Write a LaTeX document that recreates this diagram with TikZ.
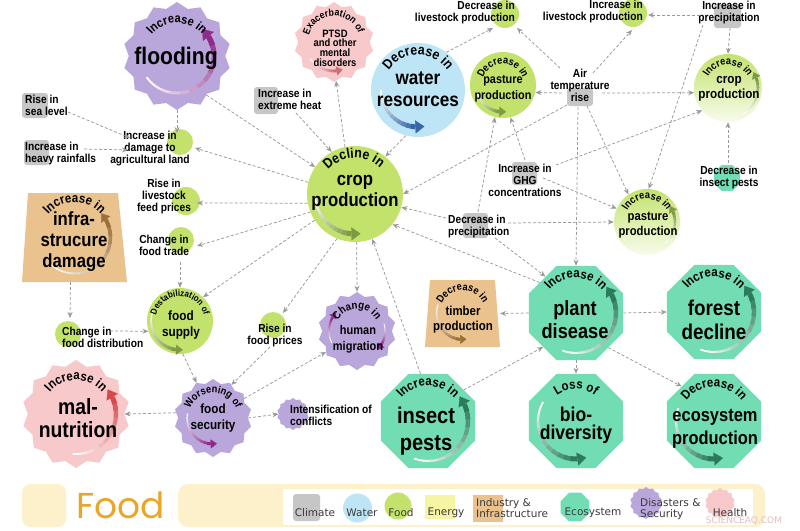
\documentclass[tikz,border=0pt]{standalone}
\usepackage{fontspec}
\setmainfont{Liberation Sans}[FakeStretch=0.88]
\newfontfamily\legfont{DejaVu Sans}
\newfontfamily\foodfont{Poppins}
\usetikzlibrary{shapes.geometric,decorations.text,arrows.meta,calc}
\definecolor{clim}{HTML}{C6C6C6}
\definecolor{wat}{HTML}{BEE5F5}
\definecolor{food}{HTML}{C3E26B}
\definecolor{ener}{HTML}{F6F5A3}
\definecolor{ind}{HTML}{E9C28E}
\definecolor{eco}{HTML}{72DDB3}
\definecolor{dis}{HTML}{B9A7DB}
\definecolor{hlth}{HTML}{F7C9CB}
\definecolor{band}{HTML}{FDF1CC}
\definecolor{orng}{HTML}{EBA628}
\definecolor{lnc}{HTML}{9A9A9A}
\definecolor{legc}{HTML}{3A3A3A}
\definecolor{swP}{HTML}{8E2A8A}
\definecolor{swB}{HTML}{3466A8}
\definecolor{swG}{HTML}{7E9A45}
\definecolor{swT}{HTML}{2C7A5C}
\definecolor{swR}{HTML}{D8494A}
\definecolor{swN}{HTML}{9A7038}
\definecolor{swK}{HTML}{D06A78}

\newcommand\fs[2]{\fontsize{#1}{#2}\selectfont\bfseries}
\newcommand\caN{\fontsize{14}{14}\selectfont\bfseries}
\newcommand\caM{\fontsize{13}{13}\selectfont\bfseries}
\newcommand\caL{\fontsize{12.5}{12.5}\selectfont\bfseries}
\newcommand\caS{\fontsize{11}{11}\selectfont\bfseries}
\newcommand\caT{\fontsize{10.5}{10.5}\selectfont\bfseries}
\newcommand\caU{\fontsize{10}{10}\selectfont\bfseries}
\newcommand\caV{\fontsize{9}{9}\selectfont\bfseries}

% curved text: center, radius, start, end, font, text
\newcommand\arctext[6]{%
  \path[decorate, decoration={text along path, text align=center, text={|#5|#6}}]
    ($(#1)+(#3:#2)$) arc[start angle=#3, end angle=#4, radius=#2];}

% swoosh arrow: center, radius, start, end, colour, width
\newcommand\swoosh[6]{%
  \foreach \i in {0,...,11}{%
    \pgfmathsetmacro\sa{#3+(#4-(#3))*\i/12}%
    \pgfmathsetmacro\sb{#3+(#4-(#3))*min(\i+1.3,12)/12}%
    \pgfmathtruncatemacro\pc{100*\i/11}%
    \pgfmathsetmacro\lw{(0.35+0.65*\i/11)*#6}%
    \draw[line width=\lw pt, draw=#5!\pc!white] ($(#1)+(\sa:#2)$) arc[start angle=\sa, end angle=\sb, radius=#2];
  }%
  \pgfmathsetmacro\al{1.4*#6+2}%
  \pgfmathsetmacro\aw{2*#6+3}%
  \pgfmathsetmacro\dr{ifthenelse(#4>#3,1,-1)}%
  \pgfmathsetmacro\tp{#4+\dr*\al/#2*57.2958}%
  \draw[draw=#5, fill=#5, line width=0.2pt, -{Triangle[length=\al pt, width=\aw pt]}] ($(#1)+(#4:#2)$) -- ($(#1)+(\tp:#2)$);
}

\begin{document}
\begin{tikzpicture}[x=1pt,y=1pt,
  con/.style={draw=lnc, line width=0.75pt, dash pattern=on 3pt off 2pt, -{Stealth[length=6pt,width=5pt]}},
  lab/.style={inner sep=0pt, align=center, font=\fs{11.6}{12}},
  dotc/.style={circle, fill=food, inner sep=0pt},
  gbox/.style={rounded corners=3pt, fill=clim, inner sep=0pt},
  octo/.style={regular polygon, regular polygon sides=8, inner sep=0pt, minimum size=102pt},
  starn/.style={star, star points=14, star point ratio=1.12, inner sep=0pt},
  mtxt/.style={inner sep=0pt, align=center},
  legtxt/.style={inner sep=0pt, font=\legfont\fontsize{10.5}{11}\selectfont, text=legc, align=left},
]
\useasboundingbox (0,0) rectangle (800,-530);
\fill[white] (0,0) rectangle (800,-530);

% ---------- small decorative markers behind labels ----------
\node[dotc, minimum size=28pt] (livDc) at (505,-14) {};
\node[dotc, minimum size=28pt] (livIc) at (633,-13) {};
\node[dotc, minimum size=26pt] (dmgc) at (180,-142) {};
\node[dotc, minimum size=28pt] (feedc) at (186,-201) {};
\node[dotc, minimum size=26pt] (tradec) at (181,-240) {};
\node[dotc, minimum size=26pt] (distc) at (68,-334) {};
\node[dotc, minimum size=26pt] (pricec) at (273,-325) {};
\node[regular polygon, regular polygon sides=8, fill=eco, inner sep=0pt, minimum size=28pt] (insDc) at (727,-178) {};
\node[gbox, minimum width=27pt, minimum height=24pt] (precIb) at (727.5,-16) {};
\node[gbox, minimum width=26pt, minimum height=18pt] (airb) at (580,-97) {};
\node[gbox, minimum width=24pt, minimum height=27pt] (heatb) at (266,-100.5) {};
\node[gbox, minimum width=26pt, minimum height=25pt] (seab) at (35,-105.5) {};
\node[gbox, minimum width=25pt, minimum height=25pt] (rainb) at (36.5,-152.5) {};
\node[gbox, minimum width=25pt, minimum height=23pt] (ghgb) at (524.5,-173.5) {};
\node[gbox, minimum width=25pt, minimum height=25pt] (precDb) at (475.5,-225.5) {};

% ---------- main shapes ----------
\node[starn, minimum size=108pt, fill=dis] (flood) at (177,-56) {};
\node[starn, minimum size=80pt, fill=hlth] (ptsd) at (334,-42) {};
\node[circle, inner sep=0pt, minimum size=94pt, fill=wat] (water) at (418,-90) {};
\node[circle, inner sep=0pt, minimum size=66pt, fill=food] (pastD) at (503,-85) {};
\node[circle, inner sep=0pt, minimum size=68pt, shade, top color=food, bottom color=food!12!white] (cropI) at (728,-88) {};
\node[circle, inner sep=0pt, minimum size=96pt, fill=food] (crop) at (355,-194) {};
\node[circle, inner sep=0pt, minimum size=66pt, shade, top color=food, bottom color=food!12!white] (pastI) at (647,-222) {};
\node[circle, inner sep=0pt, minimum size=66pt, fill=food] (stab) at (180,-321) {};
\fill[ind] (28,-193) -- (118,-193) -- (127,-282) -- (22,-282) -- cycle;
\node[rectangle, inner sep=0pt, minimum width=105pt, minimum height=89pt] (infra) at (74.5,-237.5) {};
\fill[ind] (430,-280) -- (495,-280) -- (500,-347) -- (425,-347) -- cycle;
\node[rectangle, inner sep=0pt, minimum width=75pt, minimum height=67pt] (timber) at (462.5,-313.5) {};
\node[octo, fill=eco] (plant) at (576,-313) {};
\node[octo, fill=eco] (forest) at (714,-312) {};
\node[octo, fill=eco] (insect) at (428,-421) {};
\node[octo, fill=eco] (bio) at (576,-421) {};
\node[octo, fill=eco] (eco) at (714,-421) {};
\node[starn, minimum size=108pt, fill=hlth] (mal) at (76,-414) {};
\node[starn, minimum size=78pt, fill=dis] (secur) at (213,-418) {};
\node[starn, minimum size=78pt, fill=dis] (migr) at (357,-331) {};
\node[starn, minimum size=32pt, fill=dis] (conflS) at (293,-414) {};

% ---------- swooshes ----------
\swoosh{flood}{37}{215}{392}{swP}{5.5}
\swoosh{ptsd}{29}{215}{275}{swK}{3}
\swoosh{water}{37}{180}{266}{swB}{5}
\swoosh{crop}{40}{185}{265}{swG}{5}
\swoosh{pastD}{27}{195}{262}{swG}{3.5}
\swoosh{cropI}{30}{-60}{20}{swG}{3}
\swoosh{pastI}{28}{-50}{22}{swG}{3}
\swoosh{stab}{29}{160}{262}{swG}{3.5}
\swoosh{migr}{28}{205}{150}{swP}{2.5}
\swoosh{migr}{28}{15}{-30}{swP}{2.5}
\swoosh{secur}{26}{170}{265}{swP}{3}
\swoosh{mal}{40}{-95}{25}{swR}{5}
\swoosh{infra}{36}{225}{390}{swN}{4}
\swoosh{timber}{26}{160}{265}{swN}{3}
\swoosh{plant}{40}{250}{388}{swT}{5}
\swoosh{forest}{40}{250}{388}{swT}{5}
\swoosh{insect}{40}{250}{385}{swT}{5}
\swoosh{bio}{38}{150}{272}{swT}{5}
\swoosh{eco}{38}{160}{270}{swT}{5}

% ---------- curved titles ----------
\arctext{flood}{33}{152}{28}{\caL}{Increase in}
\arctext{ptsd}{26}{176}{8}{\caU}{Exacerbation of}
\arctext{water}{35}{155}{25}{\caN}{Decrease in}
\arctext{crop}{36}{152}{32}{\caN}{Decline in}
\arctext{pastD}{21}{168}{12}{\caT}{Decrease in}
\arctext{cropI}{23}{160}{20}{\caT}{Increase in}
\arctext{pastI}{23}{160}{20}{\caT}{Increase in}
\arctext{stab}{24.5}{178}{2}{\caV}{Destabilization of}
\arctext{migr}{22}{155}{25}{\caS}{Change in}
\arctext{secur}{25}{162}{18}{\caT}{Worsening of}
\arctext{mal}{34}{150}{30}{\caM}{Increase in}
\arctext{infra}{35}{150}{30}{\caM}{Increase in}
\arctext{timber}{23}{160}{20}{\caT}{Decrease in}
\arctext{plant}{35}{150}{30}{\caM}{Increase in}
\arctext{forest}{35}{150}{30}{\caM}{Increase in}
\arctext{insect}{35}{150}{30}{\caM}{Increase in}
\arctext{bio}{32}{150}{30}{\caM}{Loss of}
\arctext{eco}{34}{152}{28}{\caM}{Decrease in}

% ---------- main texts ----------
\node[mtxt, font=\fs{24}{24}] (floodT) at (176,-58) {flooding};
\node[mtxt, font=\fs{10.7}{9.7}] (ptsdT) at (335,-48) {PTSD\\and other\\mental\\disorders};
\node[mtxt, font=\fs{19.5}{22}] (waterT) at (418,-89) {water\\resources};
\node[mtxt, font=\fs{19}{21}] (cropT) at (355,-192.5) {crop\\production};
\node[mtxt, font=\fs{12.4}{16}] (pastDT) at (503,-88.5) {pasture\\production};
\node[mtxt, font=\fs{13.3}{15}] (cropIT) at (729,-88.5) {crop\\production};
\node[mtxt, font=\fs{12.8}{15}] (pastIT) at (648,-225.5) {pasture\\production};
\node[mtxt, font=\fs{13.4}{16}] (stabT) at (181,-325) {food\\supply};
\node[mtxt, font=\fs{12.5}{15.5}] (migrT) at (358,-339.5) {human\\migration};
\node[mtxt, font=\fs{13.3}{16}] (securT) at (213,-418) {food\\security};
\node[mtxt, font=\fs{22}{23}] (malT) at (78,-418.5) {mal-\\nutrition};
\node[mtxt, font=\fs{19}{21}] (infraT) at (74,-242) {infra-\\strucure\\damage};
\node[mtxt, font=\fs{13}{15.5}] (timberT) at (463,-319.5) {timber\\production};
\node[mtxt, font=\fs{20.7}{23}] (plantT) at (575,-319.5) {plant\\disease};
\node[mtxt, font=\fs{21.4}{24}] (forestT) at (714,-319.5) {forest\\decline};
\node[mtxt, font=\fs{22.8}{27}] (insectT) at (426,-431.5) {insect\\pests};
\node[mtxt, font=\fs{20}{18}] (bioT) at (576,-425.5) {bio-\\diversity};
\node[mtxt, font=\fs{18.7}{23}] (ecoT) at (715,-428.5) {ecosystem\\production};

% ---------- labels ----------
\node[lab, anchor=east, align=right] (livD) at (515,-13) {Decrease in\\livestock production};
\node[lab, anchor=east, align=right] (livI) at (643,-12) {Increase in\\livestock production};
\node[lab] (precI) at (729,-13) {Increase in\\precipitation};
\node[lab] (air) at (580,-85) {Air\\temperature\\rise};
\node[lab, anchor=west, align=left] (heat) at (258,-99) {Increase in\\extreme heat};
\node[lab, anchor=west, align=left] (sea) at (25,-105) {Rise in\\sea level};
\node[lab, anchor=west, align=left] (rain) at (25,-153) {Increase in\\heavy rainfalls};
\node[lab] (dmg) at (150,-149) {Increase in\\damage to\\agricultural land};
\node[lab] (ghg) at (525,-180) {Increase in\\GHG\\concentrations};
\node[lab, anchor=west, align=left] (precD) at (448,-226) {Decrease in\\precipitation};
\node[lab] (insD) at (729,-177) {Decrease in\\insect pests};
\node[lab] (feed) at (164,-196) {Rise in\\livestock\\feed prices};
\node[lab] (trade) at (164,-245) {Change in\\food trade};
\node[lab, anchor=west, align=left] (dist) at (62,-337) {Change in\\food distribution};
\node[lab] (price) at (275,-335) {Rise in\\food prices};
\node[lab, anchor=west, align=left] (confl) at (290,-415) {Intensification of\\conflicts};

% ---------- connectors ----------
\draw[con] (flood.south) -- ($(dmg)+(27,16)$);
\draw[con] ($(sea.west)+(43,-7)$) -- ($(dmg)+(-20,11)$);
\draw[con] ($(rain.west)+(59,4)$) -- ($(dmg)+(-22,-1)$);
\draw[con] (crop.166) -- ($(dmg)+(45,1)$);
\draw[con] (flood.-53) -- (crop.146);
\draw[con] ($(heat.west)+(38,-14)$) -- (crop.119);
\draw[con] (crop.102) -- (ptsd.-87);
\draw[con] (water.-105) -- (crop.51);
\draw[con] (water.53) -- ($(livD.east)+(-22,-15)$);
\draw[con] ($(air)+(-20,17)$) -- ($(livD.east)+(2,-15)$);
\draw[con] ($(air)+(13,12)$) -- ($(livI.east)+(-11,-18)$);
\draw[con] ($(precI)+(-29,-2)$) -- ($(livI.east)+(5,-3)$);
\draw[con] ($(precI)+(1,-15)$) -- (cropI.north);
\draw[con] ($(air)+(22,-8)$) -- (cropI.-172);
\draw[con] ($(air)+(-18,-8)$) -- (pastD.-13);
\draw[con] ($(precI)+(-26,-12)$) -- (pastI.87);
\draw[con] ($(insD)+(-1,14)$) -- (cropI.south);
\draw[con] ($(air)+(7,-21)$) -- (pastI.124);
\draw[con] ($(ghg)+(31,15)$) -- (cropI.-139);
\draw[con] ($(ghg)+(18,2)$) -- (pastI.156);
\draw[con] ($(ghg)+(0,20)$) -- (pastD.-77);
\draw[con] ($(precD.west)+(30,14)$) -- (pastD.-104);
\draw[con] ($(precD.west)+(60,3)$) -- (pastI.west);
\draw[con] ($(precD.west)+(-2,8)$) -- (crop.-16);
\draw[con] ($(air)+(-13,-20)$) -- (crop.0);
\draw[con] (plant.140) -- (crop.-39);
\draw[con] ($(precD.west)+(47,-12)$) -- (plant.130);
\draw[con] ($(air)+(-2,-22)$) -- (plant.north);
\draw[con] (plant.west) -- (timber.east);
\draw[con] (plant.east) -- (forest.west);
\draw[con] (plant.south) -- (bio.north);
\draw[con] (plant.-47) -- (eco.133);
\draw[con] (insect.41) -- (plant.-134);
\draw[con] (insect.99) -- (crop.-69);
\draw[con] (crop.-88) -- (migr.north);
\draw[con] (crop.-112) -- ($(price)+(8,22)$);
\draw[con] (crop.-147) -- (stab.46);
\draw[con] (crop.-158) -- ($(trade)+(33,-1)$);
\draw[con] (crop.-169) -- ($(feed)+(33,-7)$);
\draw[con] ($(trade)+(16,-17)$) -- (stab.north);
\draw[con] ($(infra.south)+(-4,0)$) -- ($(dist.west)+(8,19)$);
\draw[con] ($(dist.west)+(48,6)$) -- (stab.-162);
\draw[con] (stab.-85) -- (secur.115);
\draw[con] ($(price)+(-5,-12)$) -- (secur.61);
\draw[con] (secur.32) -- (migr.214);
\draw[con] (secur.172) -- (mal.east);
\draw[con] (secur.east) -- (conflS.west);

% ---------- legend ----------
\fill[band, rounded corners=8pt] (22,-484) rectangle (66,-527);
\node[inner sep=0pt, font=\foodfont\fontsize{36}{36}\selectfont, text=orng] (foodTitle) at (121,-505) {Food};
\fill[band, rounded corners=10pt] (178,-484) rectangle (765,-527);
\fill[white] (283,-489) rectangle (753,-525);
\node[gbox, minimum width=27pt, minimum height=27pt] (lgClim) at (306.5,-507.5) {};
\node[circle, fill=wat, inner sep=0pt, minimum size=29pt] (lgWat) at (357.5,-508) {};
\node[circle, fill=food, inner sep=0pt, minimum size=27pt] (lgFood) at (398,-506) {};
\node[rectangle, fill=ener, inner sep=0pt, minimum width=30pt, minimum height=24pt] (lgEn) at (440,-506.5) {};
\node[rectangle, fill=ind, inner sep=0pt, minimum width=30pt, minimum height=27pt] (lgInd) at (488,-508) {};
\node[regular polygon, regular polygon sides=8, fill=eco, inner sep=0pt, minimum size=31pt] (lgEco) at (575,-507) {};
\node[starn, fill=dis, minimum size=32pt] (lgDis) at (646,-503) {};
\node[starn, fill=hlth, minimum size=30pt] (lgHl) at (720,-503) {};
\node[legtxt] (lgClimT) at (315,-513) {Climate};
\node[legtxt] (lgWatT) at (362,-513) {Water};
\node[legtxt] (lgFoodT) at (401,-513) {Food};
\node[legtxt] (lgEnT) at (446,-513) {Energy};
\node[legtxt, anchor=west] (lgIndT) at (476,-508) {Industry \&\\Infrastructure};
\node[legtxt] (lgEcoT) at (593,-513) {Ecosystem};
\node[legtxt, anchor=west] (lgDisT) at (640,-509) {Disasters \&\\Security};
\node[legtxt] (lgHlT) at (730,-513) {Health};
\node[inner sep=0pt, font=\legfont\fontsize{9}{9}\selectfont, text=hlth!85!gray] (wmark) at (744,-521) {SCIENCEAQ.COM};
\end{tikzpicture}
\end{document}
